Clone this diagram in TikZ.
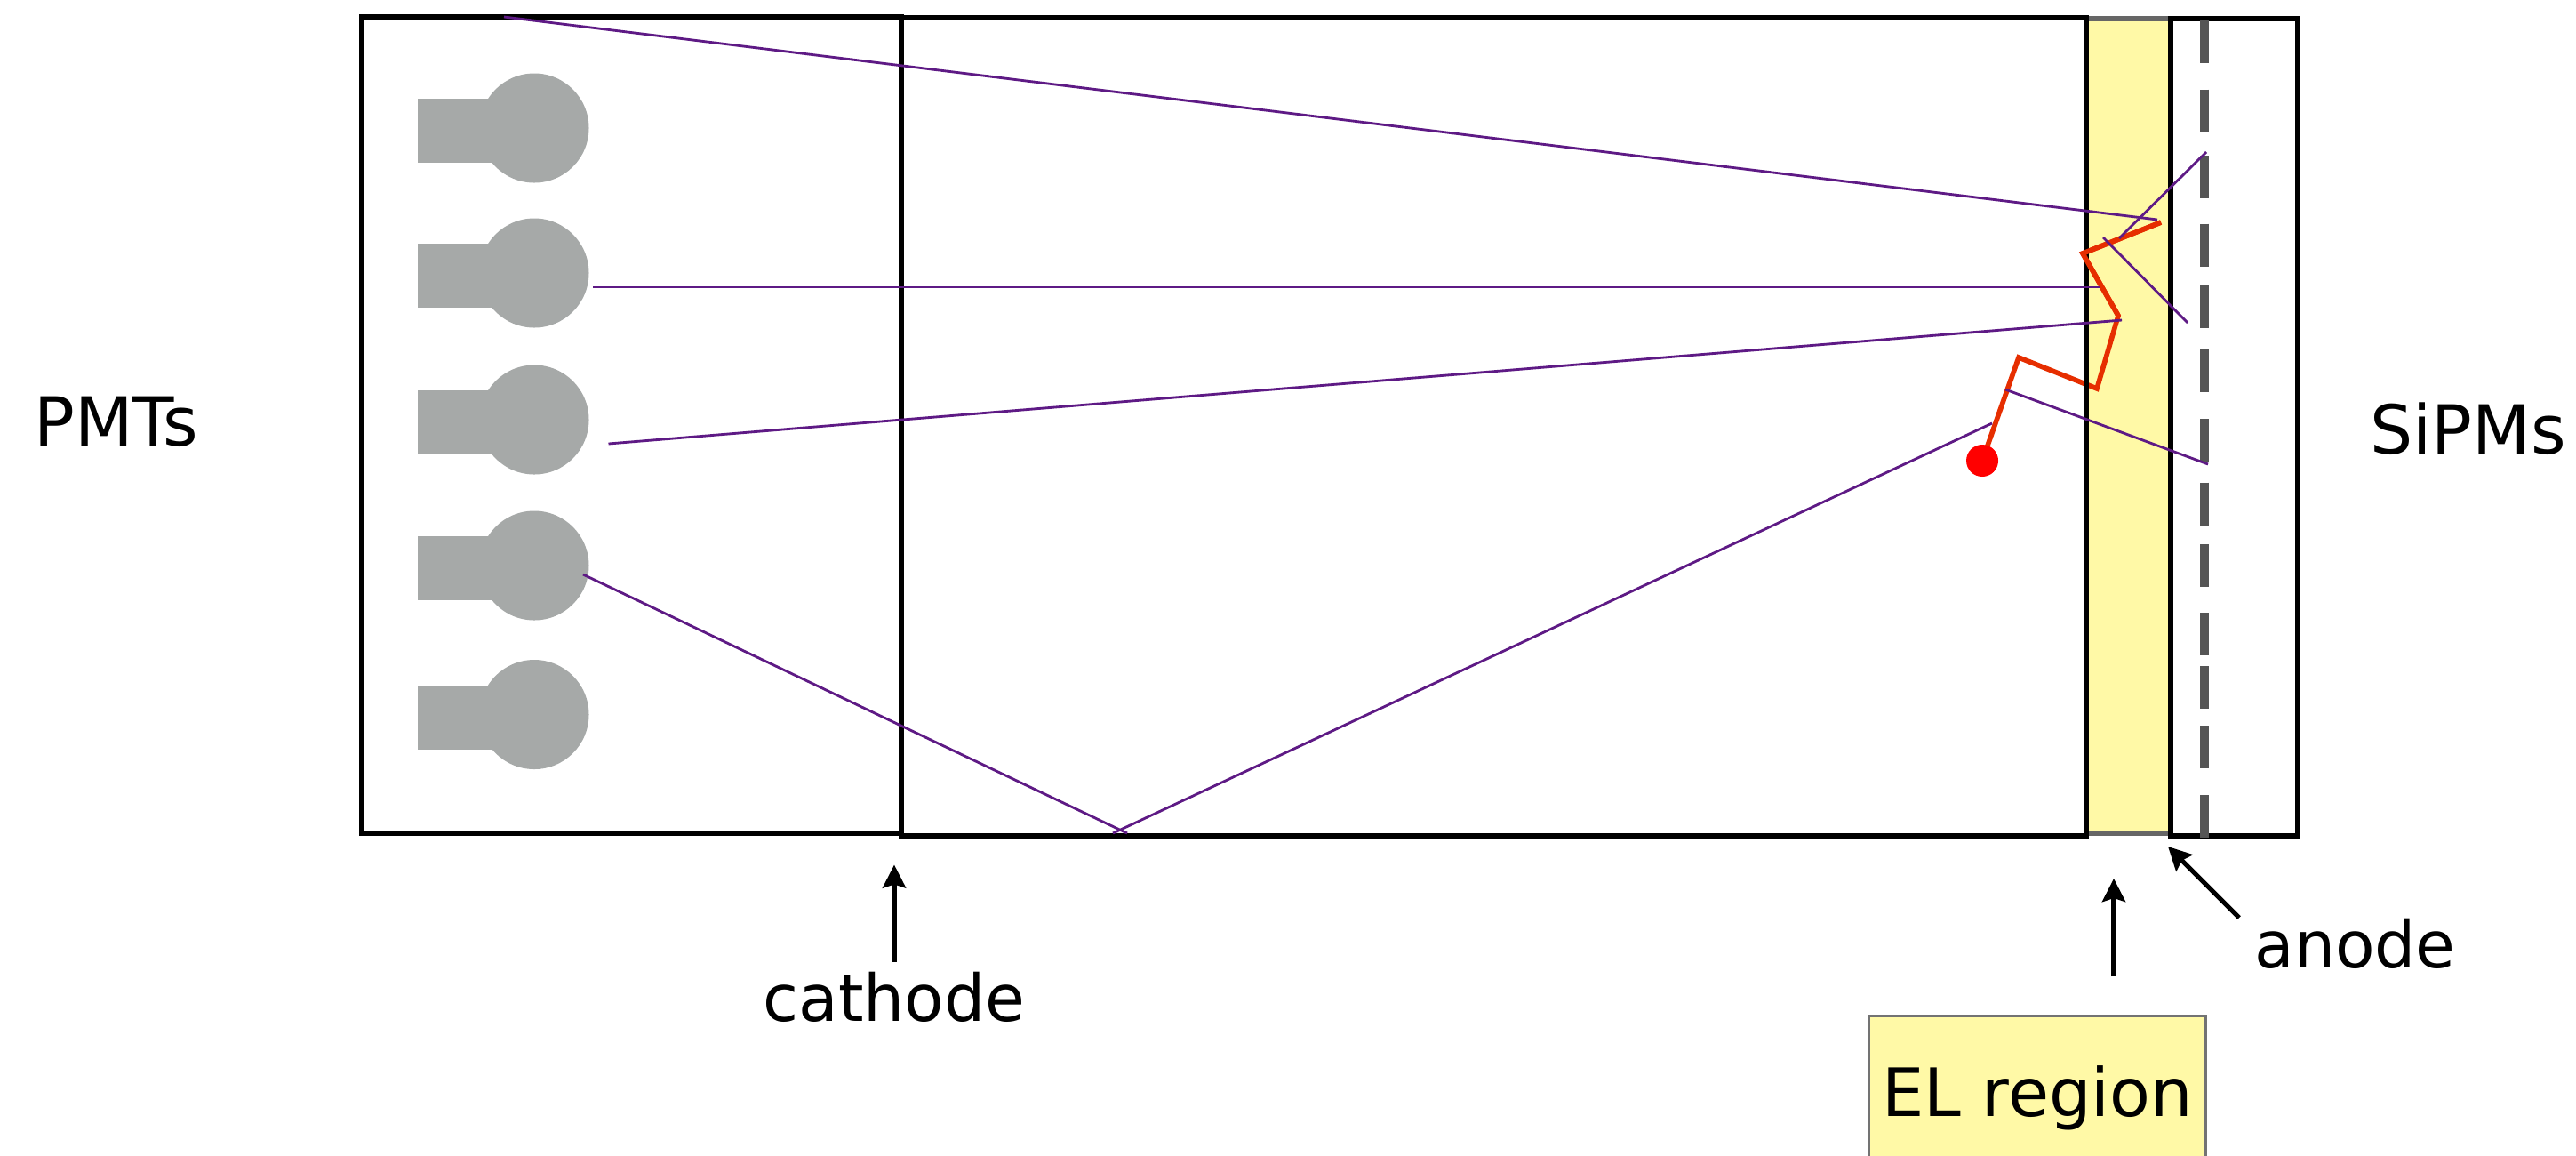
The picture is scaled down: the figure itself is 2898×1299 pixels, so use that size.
\documentclass[tikz,border=0pt]{standalone}
\usepackage{fontspec}
\setmainfont{DejaVu Sans}
\usetikzlibrary{arrows.meta}
\definecolor{elyellow}{HTML}{FFF9A6}
\definecolor{pmtgray}{HTML}{A6A9A8}
\definecolor{rayviolet}{HTML}{5E1A85}
\definecolor{trackred}{HTML}{E62E00}
\definecolor{meshgray}{HTML}{555555}
\tikzset{
	wall/.style={draw=black,line width=1.7pt},
	ray/.style={draw=rayviolet,line width=0.8pt},
	track/.style={draw=trackred,line width=1.6pt,line join=miter},
	pointer/.style={draw=black,line width=1.5pt,->},
	label/.style={anchor=base,inner sep=0pt,font=\fontsize{20.7}{25}\selectfont},
	widelabel/.style={anchor=base,inner sep=0pt,font=\fontsize{21.6}{25}\selectfont}
}
\begin{document}
\begin{tikzpicture}[x=0.01cm,y=-0.01cm,>={Stealth[length=2.6mm,width=2.6mm,inset=0.4mm]}]
	\useasboundingbox (0,0) rectangle (2898,1299);
	\fill[white] (0,0) rectangle (2898,1299);
	\foreach \y in {144,307,472,636,803.5}{
		\fill[pmtgray] (470,\y-33) rectangle (601,\y+39);
		\fill[pmtgray] (601,\y) circle (61.5);
	}
	\draw[fill=elyellow,draw=black!60,line width=1.7pt] (2347,20.5) rectangle (2441.5,936.5);
	\draw[track] (2230,518)--(2271,402)--(2359,437)--(2383,355)--(2343,285)--(2431,250);
	\fill[red] (2230,518) circle (18);
	\draw[wall] (407,18.5) rectangle (1014,937);
	\draw[wall] (1014,20) rectangle (2347,940);
	\draw[wall] (2441.5,20.5) rectangle (2585,940);
	\draw[track] (2383,355)--(2343,285)--(2431,250);
	\foreach \y in {23,100.5,175,251.5,321,393,471,542.5,612,689,749,816,894}{
		\draw[meshgray,line width=3pt] (2480,\y)--(2480,\y+48);
	}
	\draw[ray] (567,19)--(2427,247);
	\draw[ray] (667,323)--(2363,323);
	\draw[ray] (684.5,499)--(2387,360);
	\draw[ray] (656,646)--(1268,937);
	\draw[ray] (1252,937)--(2241,476);
	\draw[ray] (2256,438)--(2484,522);
	\draw[ray] (2384,268)--(2482,171);
	\draw[ray] (2366,267)--(2461,363);
	\node[widelabel] (pmts) at (131,501) {PMTs};
	\node[widelabel] (sipms) at (2776.5,510) {SiPMs};
	\node[label] (cathode) at (1006,1148) {cathode};
	\node[label] (anode) at (2649.5,1088) {anode};
	\begin{scope}
		\clip (0,0) rectangle (2898,1299);
		\node[anchor=north west,fill=elyellow,draw=black!55,line width=0.8pt,minimum width=3.79cm,minimum height=1.84cm,inner sep=0pt,font=\fontsize{21.3}{25}\selectfont] (elregion) at (2101,1141) {EL region};
	\end{scope}
	\coordinate (cathodetail) at (1006,1082);
	\coordinate (cathodetip) at (1006,972.5);
	\coordinate (eltail) at (2378,1098);
	\coordinate (eltip) at (2378,988);
	\coordinate (anodetail) at (2519,1032);
	\coordinate (anodetip) at (2439,952);
	\draw[pointer] (cathodetail)--(cathodetip);
	\draw[pointer] (eltail)--(eltip);
	\draw[pointer] (anodetail)--(anodetip);
\end{tikzpicture}
\end{document}
